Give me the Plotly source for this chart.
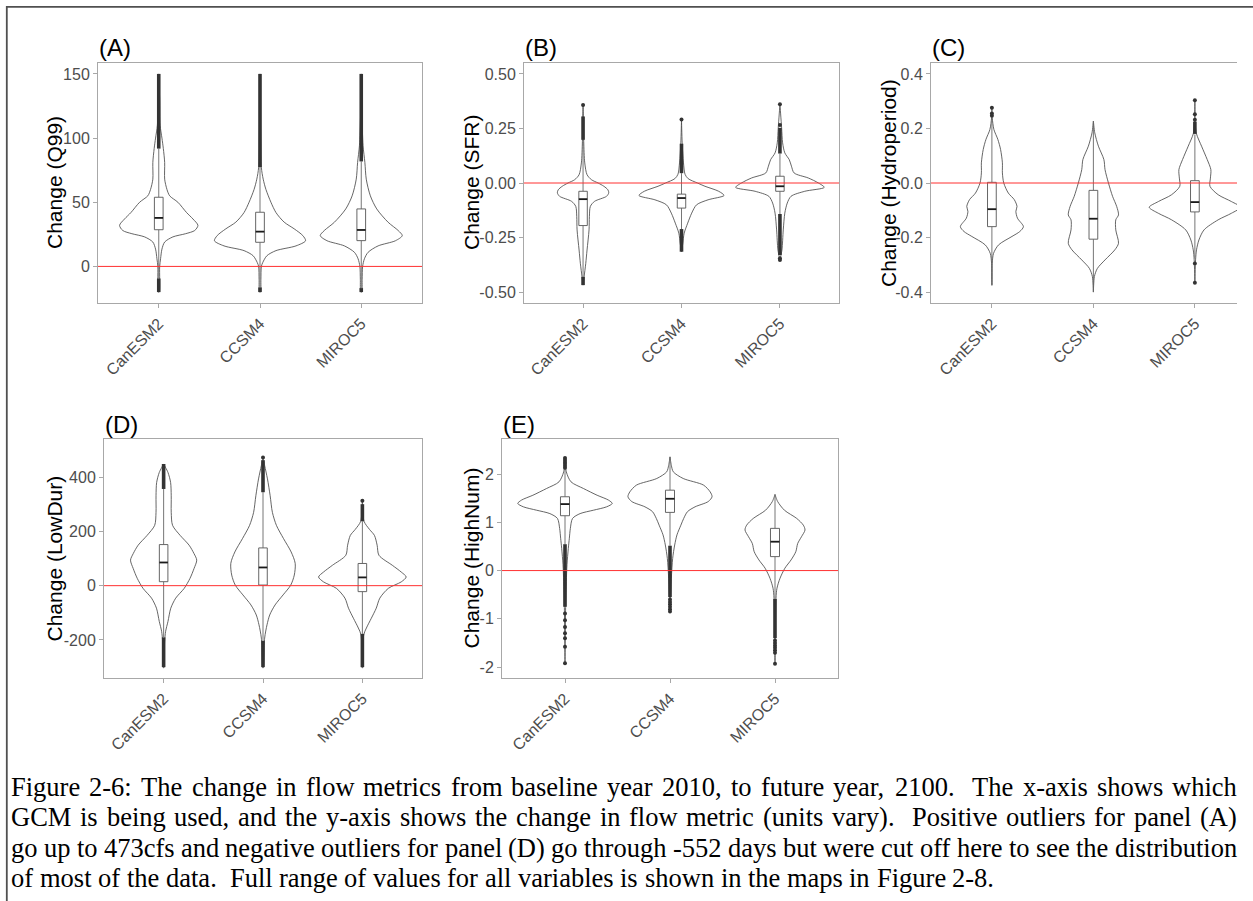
import re
import plotly.graph_objects as go

FIG_W, FIG_H = 1253, 901
GCMS = ["CanESM2", "CCSM4", "MIROC5"]

# ---------------- (A) Change (Q99) ----------------
A_CAN_Y = [-20, -10, 0, 6, 13.5, 19, 23, 25.5, 28, 32, 37, 42, 50, 55, 60, 68, 81, 92, 100, 110, 130, 150]
A_CAN_D = [0.01, 0.02, 0.02, 0.04, 0.07, 0.13, 0.31, 0.59, 0.79, 0.86, 0.75, 0.61, 0.42, 0.24, 0.18, 0.13, 0.13, 0.10, 0.07, 0.03, 0.02, 0.0]
A_CCS_Y = [-20, -10, 0, 3, 8.3, 12.3, 16, 20, 24, 29.3, 34.5, 42, 50, 60, 68, 77, 100, 150]
A_CCS_D = [0.01, 0.02, 0.03, 0.06, 0.15, 0.35, 0.79, 1.0, 0.94, 0.75, 0.53, 0.35, 0.24, 0.13, 0.07, 0.03, 0.015, 0.0]
A_MIR_Y = [-20, -10, 0, 6, 11, 16, 20, 24, 28, 34.4, 44.8, 55, 68, 81, 94, 118, 150]
A_MIR_D = [0.01, 0.02, 0.03, 0.07, 0.15, 0.37, 0.75, 0.90, 0.81, 0.59, 0.34, 0.20, 0.11, 0.08, 0.04, 0.015, 0.0]
A_Q1 = [28.6, 18.8, 20.1]
A_MED = [37.8, 27.1, 28.4]
A_Q3 = [53.9, 42.2, 44.8]
A_WHISK_LO = [-9.4, -16.4, -16.9]
A_WHISK_HI = [91.8, 77.3, 81.8]
A_OUT_RUNS = [[(91.8, 150), (-20, -9.4)], [(77.3, 150), (-20, -16.4)], [(81.8, 150), (-20, -16.9)]]
A_OUT_PTS = [[], [], []]
A_TICKS = [0, 50, 100, 150]
A_TICKTEXT = ["0", "50", "100", "150"]

# ---------------- (B) Change (SFR) ----------------
B_CAN_Y = [-0.468, -0.43, -0.37, -0.307, -0.215, -0.153, -0.107, -0.084, -0.061, -0.045, -0.031, -0.015, 0.0, 0.015, 0.038, 0.092, 0.19, 0.30, 0.358]
B_CAN_D = [0.0, 0.023, 0.06, 0.09, 0.135, 0.143, 0.165, 0.26, 0.53, 0.58, 0.56, 0.47, 0.34, 0.19, 0.09, 0.038, 0.015, 0.008, 0.0]
B_CCS_Y = [-0.315, -0.276, -0.23, -0.184, -0.138, -0.1, -0.077, -0.057, -0.038, -0.015, 0.0, 0.02, 0.04, 0.092, 0.184, 0.291]
B_CCS_D = [0.0, 0.03, 0.06, 0.14, 0.23, 0.34, 0.60, 0.96, 0.84, 0.53, 0.36, 0.15, 0.08, 0.045, 0.015, 0.0]
B_MIR_Y = [-0.353, -0.307, -0.215, -0.138, -0.092, -0.061, -0.038, -0.02, 0.0, 0.023, 0.046, 0.077, 0.107, 0.138, 0.184, 0.253, 0.361]
B_MIR_D = [0.0, 0.045, 0.075, 0.11, 0.165, 0.25, 0.56, 1.0, 0.87, 0.64, 0.32, 0.26, 0.21, 0.11, 0.06, 0.038, 0.0]
B_Q1 = [-0.195, -0.115, -0.038]
B_MED = [-0.074, -0.069, -0.015]
B_Q3 = [-0.038, -0.051, 0.031]
B_WHISK_LO = [-0.43, -0.211, -0.142]
B_WHISK_HI = [0.198, 0.045, 0.135]
B_OUT_RUNS = [[(0.198, 0.305), (-0.468, -0.43)], [(0.045, 0.18), (-0.315, -0.211)], [(0.135, 0.253), (-0.33, -0.142)]]
B_OUT_PTS = [[0.358], [0.291], [0.361, 0.266, -0.345, -0.353]]
B_TICKS = [-0.5, -0.25, 0, 0.25, 0.5]
B_TICKTEXT = ["-0.50", "-0.25", "0.00", "0.25", "0.50"]

# ---------------- (C) Change (Hydroperiod) ----------------
C_CAN_Y = [-0.375, -0.295, -0.258, -0.227, -0.196, -0.178, -0.16, -0.129, -0.104, -0.086, -0.061, -0.037, 0.0, 0.037, 0.074, 0.123, 0.16, 0.196, 0.24, 0.276]
C_CAN_D = [0.0, 0.007, 0.036, 0.146, 0.44, 0.61, 0.69, 0.56, 0.525, 0.55, 0.49, 0.36, 0.26, 0.23, 0.23, 0.19, 0.13, 0.044, 0.007, 0.0]
C_CCS_Y = [-0.40, -0.343, -0.313, -0.282, -0.245, -0.221, -0.172, -0.135, -0.117, -0.086, -0.049, 0.0, 0.049, 0.086, 0.135, 0.184, 0.227]
C_CCS_D = [0.0, 0.022, 0.088, 0.255, 0.47, 0.55, 0.49, 0.49, 0.55, 0.51, 0.42, 0.33, 0.255, 0.23, 0.11, 0.03, 0.0]
C_MIR_Y = [-0.366, -0.282, -0.245, -0.209, -0.172, -0.135, -0.111, -0.089, -0.068, -0.043, -0.012, 0.018, 0.049, 0.086, 0.135, 0.18, 0.22, 0.303]
C_MIR_D = [0.0, 0.015, 0.036, 0.088, 0.20, 0.51, 0.80, 1.0, 0.80, 0.51, 0.33, 0.34, 0.35, 0.27, 0.146, 0.036, 0.007, 0.0]
C_Q1 = [-0.160, -0.206, -0.106]
C_MED = [-0.096, -0.131, -0.070]
C_Q3 = [0.0025, -0.027, 0.0085]
C_WHISK_LO = [-0.375, -0.40, -0.277]
C_WHISK_HI = [0.235, 0.227, 0.178]
C_OUT_RUNS = [[], [], [(0.18, 0.225)]]
C_OUT_PTS = [[0.247, 0.255, 0.276], [], [0.303, 0.252, 0.232, -0.295, -0.366]]
C_TICKS = [-0.4, -0.2, 0, 0.2, 0.4]
C_TICKTEXT = ["-0.4", "-0.2", "0.0", "0.2", "0.4"]

# ---------------- (D) Change (LowDur) ----------------
D_CAN_Y = [-303, -205, -168, -132, -83, -46, -10, 27, 63, 94, 118, 149, 185, 222, 270, 331, 380, 417, 448]
D_CAN_D = [0.004, 0.022, 0.045, 0.097, 0.16, 0.27, 0.46, 0.59, 0.68, 0.74, 0.68, 0.57, 0.37, 0.20, 0.17, 0.17, 0.156, 0.097, 0.0]
D_CCS_Y = [-303, -193, -144, -108, -71, -34, 2, 39, 82, 124, 173, 222, 270, 331, 393, 442, 472]
D_CCS_D = [0.004, 0.037, 0.09, 0.15, 0.27, 0.45, 0.62, 0.70, 0.72, 0.63, 0.46, 0.30, 0.21, 0.16, 0.10, 0.037, 0.0]
D_MIR_Y = [-303, -181, -156, -120, -83, -46, -10, 14, 32, 50, 75, 112, 149, 185, 207, 237, 313]
D_MIR_D = [0.004, 0.03, 0.09, 0.20, 0.31, 0.39, 0.58, 0.87, 0.98, 0.87, 0.67, 0.37, 0.33, 0.27, 0.16, 0.037, 0.0]
D_Q1 = [14.6, 2.2, -22]
D_MED = [85.3, 67, 30.4]
D_Q3 = [151.3, 139, 81.7]
D_WHISK_LO = [-190.5, -203, -177.6]
D_WHISK_HI = [356, 344, 237]
D_OUT_RUNS = [[(356, 448), (-300, -190.5)], [(344, 462), (-300, -203)], [(237, 300), (-300, -177.6)]]
D_OUT_PTS = [[], [472], [313]]
D_TICKS = [-200, 0, 200, 400]
D_TICKTEXT = ["-200", "0", "200", "400"]

# ---------------- (E) Change (HighNum) ----------------
E_CAN_Y = [-1.935, -0.71, -0.23, 0.12, 0.46, 0.67, 0.87, 1.08, 1.18, 1.25, 1.32, 1.39, 1.46, 1.56, 1.70, 1.838, 2.045, 2.33]
E_CAN_D = [0.0, 0.014, 0.028, 0.042, 0.07, 0.092, 0.113, 0.16, 0.32, 0.60, 0.88, 1.0, 0.92, 0.68, 0.39, 0.127, 0.028, 0.0]
E_CCS_Y = [-0.85, -0.16, 0.25, 0.53, 0.74, 0.94, 1.08, 1.22, 1.32, 1.43, 1.53, 1.63, 1.77, 1.907, 2.045, 2.18, 2.355]
E_CCS_D = [0.0, 0.028, 0.056, 0.099, 0.148, 0.23, 0.29, 0.37, 0.53, 0.81, 0.89, 0.85, 0.71, 0.28, 0.07, 0.028, 0.0]
E_MIR_Y = [-1.92, -1.4, -0.57, -0.365, -0.16, 0.05, 0.22, 0.39, 0.56, 0.70, 0.84, 0.94, 1.08, 1.25, 1.43, 1.576]
E_MIR_D = [0.0, 0.007, 0.021, 0.042, 0.106, 0.21, 0.34, 0.44, 0.48, 0.56, 0.635, 0.60, 0.46, 0.20, 0.056, 0.0]
E_Q1 = [1.136, 1.205, 0.289]
E_MED = [1.377, 1.487, 0.598]
E_Q3 = [1.529, 1.665, 0.874]
E_WHISK_LO = [0.546, 0.515, -0.588]
E_WHISK_HI = [2.12, 2.355, 1.576]
E_OUT_RUNS = [[(-0.75, 0.546)], [(-0.55, 0.515)], [(-1.40, -0.588)]]
E_OUT_PTS = [[2.33, 2.29, 2.25, 2.21, 2.17, 2.13, -0.89, -1.03, -1.17, -1.30, -1.40, -1.58, -1.92],
             [-0.6, -0.65, -0.7, -0.75, -0.8, -0.85],
             [-1.45, -1.5, -1.55, -1.6, -1.65, -1.7, -1.93]]
E_TICKS = [-2, -1, 0, 1, 2]
E_TICKTEXT = ["-2", "-1", "0", "1", "2"]

CAPTION_LINES = [
    "Figure 2-6: The change in flow metrics from baseline year 2010, to future year, 2100.  The x-axis shows which",
    "GCM is being used, and the y-axis shows the change in flow metric (units vary).  Positive outliers for panel (A)",
    "go up to 473cfs and negative outliers for panel (D) go through -552 days but were cut off here to see the distribution",
    "of most of the data.  Full range of values for all variables is shown in the maps in Figure 2-8.",
]

# ---------------- layout (pixels) ----------------
# label, title, plot box (left, right, top, bottom), x range, y range, title centre x
PANELS = [
    ("(A)", "Change (Q99)", (98, 422, 63, 303), (0.4, 3.6), (-28.5, 158.5), 54,
     [(A_CAN_Y, A_CAN_D), (A_CCS_Y, A_CCS_D), (A_MIR_Y, A_MIR_D)],
     A_Q1, A_MED, A_Q3, A_WHISK_LO, A_WHISK_HI, A_OUT_RUNS, A_OUT_PTS, A_TICKS, A_TICKTEXT, True),
    ("(B)", "Change (SFR)", (524, 839, 63, 303), (0.4, 3.6), (-0.55, 0.55), 471,
     [(B_CAN_Y, B_CAN_D), (B_CCS_Y, B_CCS_D), (B_MIR_Y, B_MIR_D)],
     B_Q1, B_MED, B_Q3, B_WHISK_LO, B_WHISK_HI, B_OUT_RUNS, B_OUT_PTS, B_TICKS, B_TICKTEXT, True),
    ("(C)", "Change (Hydroperiod)", (931, 1237, 63, 303), (0.4, 3.415), (-0.44, 0.44), 888,
     [(C_CAN_Y, C_CAN_D), (C_CCS_Y, C_CCS_D), (C_MIR_Y, C_MIR_D)],
     C_Q1, C_MED, C_Q3, C_WHISK_LO, C_WHISK_HI, C_OUT_RUNS, C_OUT_PTS, C_TICKS, C_TICKTEXT, False),
    ("(D)", "Change (LowDur)", (104, 422, 439, 678), (0.4, 3.6), (-340, 540), 54,
     [(D_CAN_Y, D_CAN_D), (D_CCS_Y, D_CCS_D), (D_MIR_Y, D_MIR_D)],
     D_Q1, D_MED, D_Q3, D_WHISK_LO, D_WHISK_HI, D_OUT_RUNS, D_OUT_PTS, D_TICKS, D_TICKTEXT, True),
    ("(E)", "Change (HighNum)", (502, 838, 439, 678), (0.4, 3.6), (-2.225, 2.725), 471,
     [(E_CAN_Y, E_CAN_D), (E_CCS_Y, E_CCS_D), (E_MIR_Y, E_MIR_D)],
     E_Q1, E_MED, E_Q3, E_WHISK_LO, E_WHISK_HI, E_OUT_RUNS, E_OUT_PTS, E_TICKS, E_TICKTEXT, True),
]

VIOLIN_HALF = 0.45     # half of the widest violin, in category units
BOX_HALF = 0.043
SANS = "Liberation Sans, Arial, sans-serif"
SERIF = "Liberation Serif, Times New Roman, serif"
OUTLINE = "#4a4a4a"
AXIS_GREY = "#a8a8a8"


def px_x(v):
    return v / FIG_W


def px_y(v):
    return 1 - v / FIG_H


fig = go.Figure()
layout = dict(
    width=FIG_W, height=FIG_H, autosize=False,
    margin=dict(l=0, r=0, t=0, b=0),
    paper_bgcolor="white", plot_bgcolor="white",
    showlegend=False,
)
annotations = []
shapes = []

for i, (lab, ytitle, box, xr, yr, tx, violins, q1, med, q3, wlo, whi,
        runs, pts, ticks, ticktext, right_border) in enumerate(PANELS):
    n = i + 1
    sfx = "" if n == 1 else str(n)
    xa, ya = "x" + sfx, "y" + sfx
    left, right, top, bottom = box
    layout["xaxis" + sfx] = dict(
        domain=[px_x(left), px_x(right)], range=list(xr), anchor=ya,
        tickvals=[1, 2, 3], ticktext=GCMS, tickangle=-45,
        tickfont=dict(family=SANS, size=16, color="#4d4d4d"),
        showline=True, linecolor=AXIS_GREY, linewidth=1, mirror=True,
        ticks="outside", ticklen=4, tickcolor=AXIS_GREY, tickwidth=1,
        showgrid=False, zeroline=False, fixedrange=True,
    )
    layout["yaxis" + sfx] = dict(
        domain=[px_y(bottom), px_y(top)], range=list(yr), anchor=xa,
        tickvals=ticks, ticktext=ticktext,
        tickfont=dict(family=SANS, size=16, color="#4d4d4d"),
        showline=True, linecolor=AXIS_GREY, linewidth=1, mirror=right_border,
        ticks="outside", ticklen=4, tickcolor=AXIS_GREY, tickwidth=1,
        showgrid=False, zeroline=False, fixedrange=True,
    )

    for k, (vy, vd) in enumerate(violins):
        c = k + 1
        # violin outline: right edge upward, left edge back down
        xs = [c + VIOLIN_HALF * d for d in vd] + [c - VIOLIN_HALF * d for d in reversed(vd)]
        ys = list(vy) + list(reversed(vy))
        fig.add_trace(go.Scatter(
            x=xs + [xs[0]], y=ys + [ys[0]], xaxis=xa, yaxis=ya, mode="lines",
            line=dict(color=OUTLINE, width=0.85, shape="spline", smoothing=0.8),
            fill="toself", fillcolor="white", hoverinfo="skip"))
        # whiskers
        fig.add_trace(go.Scatter(
            x=[c, c, None, c, c], y=[wlo[k], q1[k], None, q3[k], whi[k]],
            xaxis=xa, yaxis=ya, mode="lines",
            line=dict(color="#666666", width=0.9), hoverinfo="skip"))
        # dense outlier runs
        rx, ry = [], []
        for lo, hi in runs[k]:
            rx += [c, c, None]
            ry += [lo, hi, None]
        if rx:
            fig.add_trace(go.Scatter(
                x=rx, y=ry, xaxis=xa, yaxis=ya, mode="lines",
                line=dict(color="#333333", width=3.6), hoverinfo="skip"))
        if pts[k]:
            fig.add_trace(go.Scatter(
                x=[c] * len(pts[k]), y=pts[k], xaxis=xa, yaxis=ya, mode="markers",
                marker=dict(color="#333333", size=4), hoverinfo="skip"))
        # box
        fig.add_trace(go.Scatter(
            x=[c - BOX_HALF, c + BOX_HALF, c + BOX_HALF, c - BOX_HALF, c - BOX_HALF],
            y=[q1[k], q1[k], q3[k], q3[k], q1[k]],
            xaxis=xa, yaxis=ya, mode="lines", fill="toself", fillcolor="white",
            line=dict(color="#555555", width=0.9), hoverinfo="skip"))
        fig.add_trace(go.Scatter(
            x=[c - BOX_HALF, c + BOX_HALF], y=[med[k], med[k]],
            xaxis=xa, yaxis=ya, mode="lines",
            line=dict(color="#1a1a1a", width=1.8), hoverinfo="skip"))

    # zero reference line
    shapes.append(dict(type="line", xref=f"{xa} domain", yref=ya, x0=0, x1=1, y0=0, y1=0,
                       line=dict(color="#ff3030", width=1)))
    # panel label
    annotations.append(dict(text=lab, xref="paper", yref="paper", x=px_x(left - 1), y=px_y(top - 15),
                            xanchor="left", yanchor="middle", showarrow=False,
                            font=dict(family=SANS, size=24, color="black")))
    # y-axis title
    annotations.append(dict(text=ytitle, xref="paper", yref="paper", x=px_x(tx),
                            y=px_y((top + bottom) / 2), xanchor="center", yanchor="middle",
                            textangle=-90, showarrow=False,
                            font=dict(family=SANS, size=21, color="black")))

# ---------------- caption, justified between two margins ----------------
TIMES_ADV = {
    " ": 250, "!": 333, "(": 333, ")": 333, ",": 250, "-": 333, ".": 250, ":": 278,
    "0": 500, "1": 500, "2": 500, "3": 500, "4": 500, "5": 500, "6": 500, "7": 500, "8": 500, "9": 500,
    "A": 722, "B": 667, "C": 667, "D": 722, "E": 611, "F": 556, "G": 722, "H": 722, "I": 333,
    "M": 889, "P": 556, "S": 556, "T": 611,
    "a": 444, "b": 500, "c": 444, "d": 500, "e": 444, "f": 333, "g": 500, "h": 500, "i": 278,
    "j": 278, "k": 500, "l": 278, "m": 778, "n": 500, "o": 500, "p": 500, "q": 500, "r": 333,
    "s": 389, "t": 278, "u": 500, "v": 500, "w": 722, "x": 500, "y": 500, "z": 444,
}
CAP_SIZE = 26.5
CAP_LEFT, CAP_RIGHT = 10, 1236
CAP_BASELINES = [795, 825.5, 856, 886.5]


def adv(s):
    return sum(TIMES_ADV.get(ch, 500) for ch in s) * CAP_SIZE / 1000.0


for li, line in enumerate(CAPTION_LINES):
    tokens = re.split(r"( +)", line)
    n_space = sum(len(t) for t in tokens if t and not t.strip())
    natural = sum(adv(t) for t in tokens)
    justify = li < len(CAPTION_LINES) - 1
    extra = (CAP_RIGHT - CAP_LEFT - natural) / n_space if (justify and n_space) else 0.0
    x = CAP_LEFT
    yc = CAP_BASELINES[li] - 0.32 * CAP_SIZE
    for t in tokens:
        if not t:
            continue
        if t.strip():
            annotations.append(dict(text=t, xref="paper", yref="paper", x=px_x(x - 1), y=px_y(yc),
                                    xanchor="left", yanchor="middle", showarrow=False,
                                    font=dict(family=SERIF, size=CAP_SIZE, color="black")))
            x += adv(t)
        else:
            x += adv(t) + extra * len(t)

# outer frame (top and left edges)
shapes.append(dict(type="line", xref="paper", yref="paper", x0=px_x(6.8), x1=px_x(6.8),
                   y0=px_y(6), y1=0, line=dict(color="#505050", width=1.8)))
shapes.append(dict(type="line", xref="paper", yref="paper", x0=px_x(6), x1=1,
                   y0=px_y(6.8), y1=px_y(6.8), line=dict(color="#505050", width=1.8)))

layout["annotations"] = annotations
layout["shapes"] = shapes
fig.update_layout(**layout)
fig.write_html("out.html")
